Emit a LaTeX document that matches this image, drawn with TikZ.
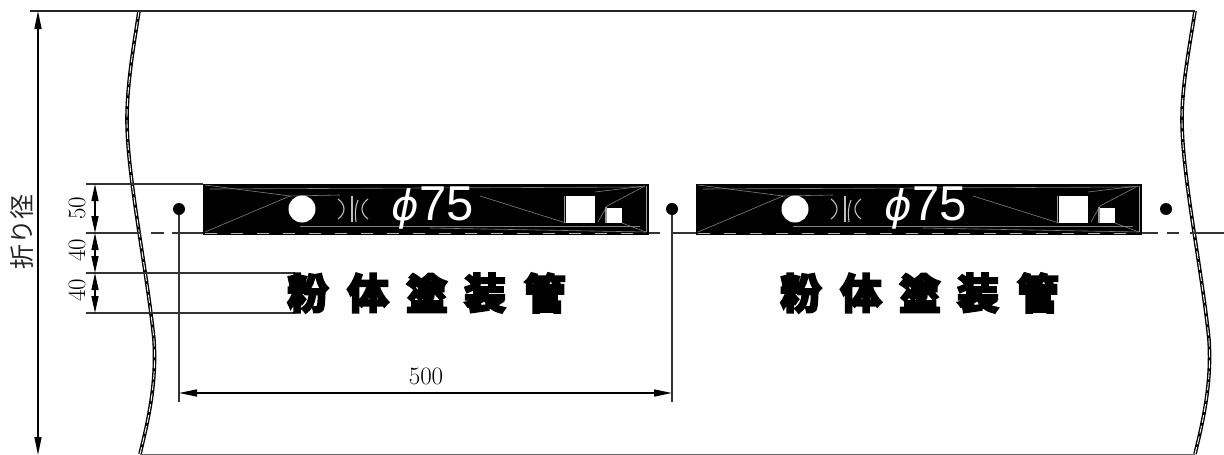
\documentclass[tikz,border=0pt]{standalone}
\usepackage{fontspec}
\setmainfont{Latin Modern Roman}
\newfontfamily\cjkfat[FakeBold=7]{Noto Sans CJK JP Bold}
\newfontfamily\cjkthin{Noto Sans CJK JP}
\newfontfamily\phifont{DejaVu Sans Oblique}
\newfontfamily\numfont{Liberation Sans}
\usetikzlibrary{arrows.meta}
\tikzset{
 x=1pt,y=-1pt,
 dimline/.style={line width=1.5pt,{Stealth[length=18pt,width=7pt,inset=0pt]}-{Stealth[length=18pt,width=7pt,inset=0pt]}},
 smalldim/.style={line width=1.3pt,{Stealth[length=17pt,width=7pt,inset=0pt]}-{Stealth[length=17pt,width=7pt,inset=0pt]}},
 extline/.style={line width=1.6pt,black!80},
 band/.style={draw=black,fill=black,minimum width=445pt,minimum height=50pt,inner sep=0pt,outer sep=0pt,anchor=north west,line width=.8pt},
 hole/.style={circle,fill=white,minimum size=27pt,inner sep=0pt},
 sqbig/.style={fill=white,minimum width=29pt,minimum height=27pt,inner sep=0pt},
 sqsmall/.style={fill=white,minimum width=15pt,minimum height=15pt,inner sep=0pt},
 pin/.style={circle,fill=black,minimum size=12pt,inner sep=0pt},
 phitext/.style={text=white,inner sep=0pt},
 marktext/.style={text=black,font=\fontsize{41pt}{41pt}\cjkfat,inner sep=0pt},
 dimtext/.style={font=\fontsize{25pt}{25pt}\selectfont,inner sep=0pt,text=black},
 sheen/.style={line width=.6pt,black!50},
 crescent/.style={line width=1.1pt,white!75!black},
 seamline/.style={line width=3.6pt,black},
 seamdash/.style={line width=.9pt,white,dash pattern=on 8pt off 3pt},
}
\begin{document}
\begin{tikzpicture}
\useasboundingbox (0,0) rectangle (1224,455);
% ---------- pipe outline
\def\leftedge{(139,11) .. controls (133,50) and (127,85) .. (127,120) .. controls (127,175) and (147,270) .. (154,340) .. controls (157,385) and (147,425) .. (140,454)}
\def\rightedge{(1195,11) .. controls (1189,50) and (1182,85) .. (1182,120) .. controls (1182,175) and (1202,270) .. (1209,340) .. controls (1212,385) and (1202,425) .. (1195,454)}
\draw[seamline] \leftedge;
\draw[seamdash] \leftedge;
\draw[seamline] \rightedge;
\draw[seamdash] \rightedge;
\coordinate (TL) at (30,11); \coordinate (TR) at (1195,11);
\coordinate (BL) at (140,454); \coordinate (BR) at (1195,454);
\draw[line width=2.4pt,black!85] (TL) -- (TR);
\draw[line width=1pt,black!60] (BL) -- (BR);
% ---------- centre line
\coordinate (c0) at (86,233); \coordinate (c1) at (141,233);
\coordinate (c2) at (151,233); \coordinate (c3) at (164,233);
\coordinate (c4) at (172,233); \coordinate (c5) at (203,233);
\coordinate (c6) at (648,233); \coordinate (c7) at (660,233);
\coordinate (c8) at (671,233); \coordinate (c10) at (696,233);
\coordinate (c11) at (1141,233);
\coordinate (c12) at (1158,233); \coordinate (c13) at (1167,233);
\coordinate (c14) at (1179,233); \coordinate (c15) at (1190,233);
\coordinate (c16) at (1224,233);
\foreach \a/\b in {c0/c1,c2/c3,c4/c5,c6/c7,c8/c10,c11/c12,c13/c14,c15/c16}
  \draw[extline] (\a) -- (\b);
% ---------- extension lines
\coordinate (e1a) at (86,184); \coordinate (e1b) at (203,184);
\coordinate (e3a) at (86,273); \coordinate (e3b) at (295,273);
\coordinate (e4a) at (86,313); \coordinate (e4b) at (295,313);
\draw[extline] (e1a) -- (e1b);
\draw[extline] (e3a) -- (e3b);
\draw[extline] (e4a) -- (e4b);
% ---------- bands
\node[band] (band1) at (203,184) {};
\node[band] (band2) at (696,184) {};
\foreach \o/\n in {0/a,493/b}{
  \begin{scope}[xshift=\o pt]
    \draw[sheen] (205,232) -- (290,196);
    \draw[sheen] (205,185) -- (290,196) -- (340,195);
    \draw[sheen] (480,196) -- (566,223);
    \draw[sheen] (595,192) -- (645,186);
    \draw[sheen] (598,222) -- (607,206) -- (645,186);
    \draw[sheen] (622,223) -- (646,232);
    \draw[sheen] (430,228) -- (646,232);
    \draw[sheen] (210,189) -- (640,187);
    \draw[sheen] (300,226) -- (640,226);
    \draw[line width=.8pt,white!60!black] (646,186) -- (646,232);
    \draw[white!70!black,line width=1.4pt,dash pattern=on 12pt off 14pt] (205,233.5) -- (647,233.5);
    \draw[crescent] (338,199) .. controls (346,205) and (346,213) .. (338,219);
    \draw[crescent] (352,196) -- (352,222);
    \draw[crescent] (358,200) .. controls (355,207) and (355,213) .. (356,222);
    \draw[crescent] (368,199) .. controls (360,205) and (360,213) .. (368,219);
    \node[hole] (hole\n) at (302,209) {};
    \node[sqbig] (sq\n) at (580.5,209.5) {};
    \node[sqsmall] (ss\n) at (614.5,215.5) {};
    \draw[white!60!black,line width=1.1pt] (564.5,196) -- (564.5,223);
    \draw[white!60!black,line width=1.1pt] (606,223) -- (606,207);
    \node[phitext] (phi\n) at (433,208) {\fontsize{42pt}{42pt}\phifont ϕ\fontsize{49pt}{49pt}\numfont 75};
  \end{scope}
}
% ---------- marking text
\foreach \o/\n in {0/a,493/b}{
  \begin{scope}[xshift=\o pt]
    \node[marktext] (ka\n) at (308,293) {粉};
    \node[marktext] (kb\n) at (368,293) {体};
    \node[marktext] (kc\n) at (427,293) {塗};
    \node[marktext] (kd\n) at (485,293) {装};
    \node[marktext] (ke\n) at (545,293) {管};
  \end{scope}
}
% ---------- pins and 500 dimension
\node[pin] (p1) at (179,209) {};
\node[pin] (p2) at (672,209) {};
\node[pin] (p3) at (1166,209) {};
\coordinate (p1e) at (179,402);
\coordinate (p2e) at (672,402);
\draw[extline] (p1) -- (p1e);
\draw[extline] (p2) -- (p2e);
\coordinate (d1) at (179,393); \coordinate (d2) at (672,393);
\draw[dimline] (d1) -- (d2);
\node[dimtext] (t500) at (426,376) {500};
% ---------- overall width
\coordinate (w1) at (38,11); \coordinate (w2) at (38,455);
\draw[dimline] (w1) -- (w2);
\node[rotate=90,inner sep=0pt,font=\fontsize{25pt}{25pt}\cjkthin,text=black!85] (folded) at (22,232) {折り径};
% ---------- small dimensions
\coordinate (s1) at (95,184); \coordinate (s2) at (95,233);
\coordinate (s3) at (95,273); \coordinate (s4) at (95,313);
\draw[smalldim] (s1) -- (s2);
\draw[smalldim] (s2) -- (s3);
\draw[smalldim] (s3) -- (s4);
\node[dimtext,rotate=90] (t50) at (77,208) {50};
\node[dimtext,rotate=90] (t40a) at (77,250) {40};
\node[dimtext,rotate=90] (t40b) at (77,290) {40};
\end{tikzpicture}
\end{document}
